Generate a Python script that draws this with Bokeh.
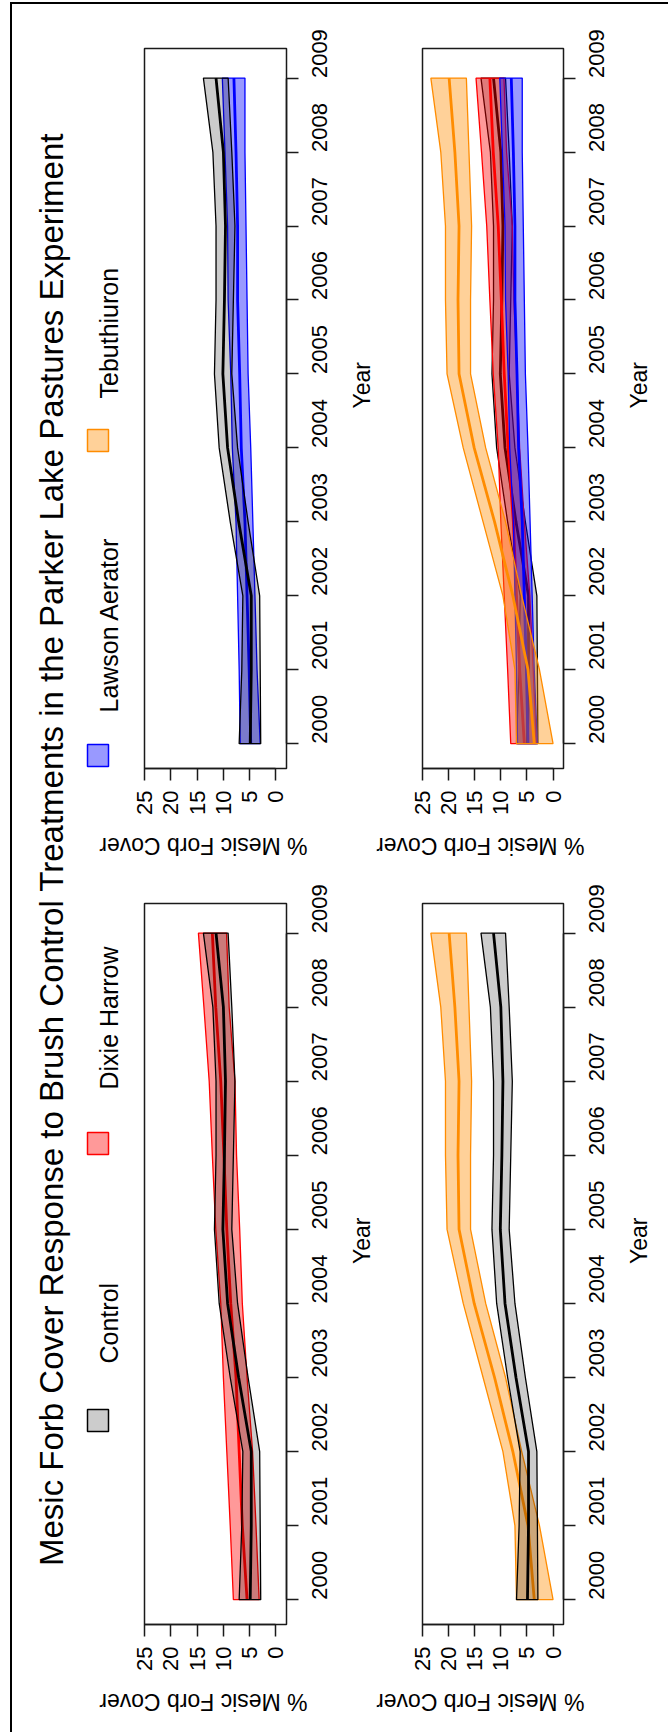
import math
from bokeh.plotting import figure
from bokeh.models import Range1d, FixedTicker, Label
from bokeh.core.properties import value
from bokeh.layouts import row, column
from bokeh.embed import file_html
from bokeh.resources import INLINE

# ---------------- data ----------------
years = [2000, 2001, 2002, 2003, 2004, 2005, 2006, 2007, 2008, 2009]

control_mean = [4.9, 4.7, 4.7, 7.1, 9.2, 10.1, 9.8, 9.6, 10.0, 11.4]
control_lo = [2.9, 3.0, 3.1, 5.3, 7.3, 8.4, 8.1, 7.8, 8.4, 9.1]
control_hi = [7.0, 6.5, 6.3, 8.7, 10.8, 11.7, 11.4, 11.4, 12.0, 13.8]

dixie_mean = [5.5, 6.4, 7.0, 7.6, 8.6, 9.35, 9.9, 10.5, 11.45, 12.1]
dixie_lo = [3.2, 3.8, 4.45, 5.5, 6.4, 6.9, 7.5, 7.8, 8.9, 9.4]
dixie_hi = [8.1, 8.7, 9.35, 10.0, 10.5, 11.45, 12.1, 12.7, 13.7, 14.75]

lawson_mean = [4.8, 5.1, 5.5, 5.9, 6.6, 6.9, 7.3, 7.3, 7.6, 8.0]
lawson_lo = [3.0, 3.6, 4.0, 4.4, 4.8, 5.3, 5.5, 5.7, 5.9, 5.9]
lawson_hi = [6.8, 7.0, 7.3, 7.6, 8.3, 8.6, 9.1, 9.2, 9.7, 10.2]

teb_mean = [3.6, 4.8, 7.7, 11.2, 15.1, 18.0, 18.2, 18.0, 18.8, 19.9]
teb_lo = [0.0, 2.6, 6.0, 9.1, 12.9, 15.8, 15.8, 15.6, 16.1, 16.6]
teb_hi = [7.0, 7.3, 9.6, 13.4, 17.2, 20.3, 20.6, 20.6, 21.5, 23.4]

cover_ticks = [0, 5, 10, 15, 20, 25]
treatments = ["Control", "Dixie Harrow", "Lawson Aerator", "Tebuthiuron"]
title_text = "Mesic Forb Cover Response to Brush Control Treatments in the Parker Lake Pastures Experiment"
cover_label = "% Mesic Forb Cover"
year_label = "Year"

# ---------------- styles ----------------
FONT = "Liberation Sans"
STYLE = {
    "Control": dict(fill="black", alpha=0.2, line="black"),
    "Dixie Harrow": dict(fill="red", alpha=0.4, line="red"),
    "Lawson Aerator": dict(fill="blue", alpha=0.4, line="blue"),
    "Tebuthiuron": dict(fill="darkorange", alpha=0.4, line="darkorange"),
}
SERIES = {
    "Control": (control_mean, control_lo, control_hi),
    "Dixie Harrow": (dixie_mean, dixie_lo, dixie_hi),
    "Lawson Aerator": (lawson_mean, lawson_lo, lawson_hi),
    "Tebuthiuron": (teb_mean, teb_lo, teb_hi),
}
X0, X1 = 25, -2.0
Y0, Y1 = 1999.665, 2009.40
AX = "#1a1a1a"


def panel(width, height, mb_left, mb_right, mb_top, mb_bottom, names):
    p = figure(width=width, height=height,
               x_range=Range1d(X0, X1), y_range=Range1d(Y0, Y1),
               x_axis_location="below", y_axis_location="right",
               toolbar_location=None, output_backend="svg",
               min_border_left=mb_left, min_border_right=mb_right,
               min_border_top=mb_top, min_border_bottom=mb_bottom)
    p.outline_line_color = AX
    p.outline_line_width = 1.5
    p.xgrid.visible = False
    p.ygrid.visible = False

    xa = p.xaxis[0]
    xa.ticker = FixedTicker(ticks=cover_ticks)
    xa.bounds = (0, 25)
    xa.major_tick_out = 12
    xa.major_tick_in = 0
    xa.minor_tick_out = 0
    xa.minor_tick_in = 0
    xa.axis_line_color = AX
    xa.axis_line_width = 1.5
    xa.major_tick_line_color = AX
    xa.major_tick_line_width = 1.5
    xa.major_label_orientation = math.pi / 2
    xa.major_label_text_font = FONT
    xa.major_label_text_font_size = "22px"
    xa.major_label_text_color = "black"
    xa.major_label_standoff = 10

    ya = p.yaxis[0]
    ya.ticker = FixedTicker(ticks=years)
    ya.bounds = (2000, 2009)
    ya.major_tick_out = 12
    ya.major_tick_in = 0
    ya.minor_tick_out = 0
    ya.minor_tick_in = 0
    ya.axis_line_color = AX
    ya.axis_line_width = 1.5
    ya.major_tick_line_color = AX
    ya.major_tick_line_width = 1.5
    ya.major_label_orientation = math.pi / 2
    ya.major_label_text_font = FONT
    ya.major_label_text_font_size = "22px"
    ya.major_label_text_color = "black"
    ya.major_label_standoff = 21
    ya.axis_label = year_label
    ya.axis_label_text_font = FONT
    ya.axis_label_text_font_size = "23px"
    ya.axis_label_text_font_style = "normal"
    ya.axis_label_text_color = "black"
    ya.axis_label_standoff = 24
    ya.axis_label_orientation = math.pi / 2

    for name in names:
        mean, lo, hi = SERIES[name]
        st = STYLE[name]
        p.patch(list(lo) + list(hi)[::-1], years + years[::-1],
                fill_color=st["fill"], fill_alpha=st["alpha"],
                line_color=st["line"], line_width=1.3)
        p.line(mean, years, line_color=st["line"], line_width=2.8)
    return p


EXT = 32  # caption strips reach this far left, under the neighbour (transparent)


def caption(width, height, cx, cy):
    """Strip under a panel holding the upside-down cover-axis title.
    Wrapped in its own row so its frame is not aligned with the panels'."""
    w = width + EXT
    c = figure(width=w, height=height, x_range=Range1d(0, w), y_range=Range1d(height, 0),
               x_axis_type=None, y_axis_type=None, toolbar_location=None,
               output_backend="svg", min_border=0)
    c.outline_line_color = None
    c.background_fill_alpha = 0
    c.border_fill_alpha = 0
    c.xgrid.visible = False
    c.ygrid.visible = False
    c.text(x=[cx + EXT], y=[cy], text=[cover_label], angle=math.pi,
           text_align="center", text_baseline="middle",
           text_font=value(FONT), text_font_size=value("23px"), text_color="black")
    return row(c, styles={"margin-left": f"-{EXT}px"})


# panel geometry (pixels)
LW, RW = 278, 260
UH, UCH = 818, 58
LH, LCH = 800, 52

fA = panel(LW, UH, 14, 122, 44, 54, ["Lawson Aerator", "Control"])
fC = panel(LW, LH, 14, 122, 23, 56, ["Dixie Harrow", "Control"])
fB = panel(RW, UH, 14, 105, 44, 54, ["Control", "Dixie Harrow", "Lawson Aerator", "Tebuthiuron"])
fD = panel(RW, LH, 14, 105, 23, 56, ["Tebuthiuron", "Control"])

cA = caption(LW, UCH, 85, 23)
cC = caption(LW, LCH, 85, 21)
cB = caption(RW, UCH, 84.5, 23)
cD = caption(RW, LCH, 84.5, 21)

# ---------------- title + legend strip ----------------
SW, SH = 118, UH + UCH + LH + LCH
strip = figure(width=SW, height=SH, x_range=Range1d(0, SW), y_range=Range1d(SH, 0),
               x_axis_type=None, y_axis_type=None, toolbar_location=None,
               output_backend="svg", min_border=0)
strip.outline_line_color = None
strip.xgrid.visible = False
strip.ygrid.visible = False

strip.add_layout(Label(x=38.7, y=845, text=title_text, angle=math.pi / 2,
                       text_align="center", text_baseline="alphabetic",
                       text_font=FONT, text_font_size="33px", text_color="black"))

legend_key_y = [1416, 1139, 751, 436]
legend_text_y = [1359, 1085, 708, 394]
for name, ky, ty in zip(treatments, legend_key_y, legend_text_y):
    st = STYLE[name]
    strip.rect(x=[85.5], y=[ky], width=21, height=22,
               fill_color=st["fill"], fill_alpha=st["alpha"],
               line_color=st["line"], line_width=1.5)
    strip.add_layout(Label(x=96, y=ty, text=name, angle=math.pi / 2,
                           text_align="left", text_baseline="alphabetic",
                           text_font=FONT, text_font_size="25px", text_color="black"))

layout = row(strip, column(fA, cA, fC, cC), column(fB, cB, fD, cD),
             styles={"margin-left": "10px", "margin-top": "2px",
                     "border-top": "2px solid black", "border-left": "2px solid black"})

open("out.html", "w").write(file_html(layout, INLINE))
